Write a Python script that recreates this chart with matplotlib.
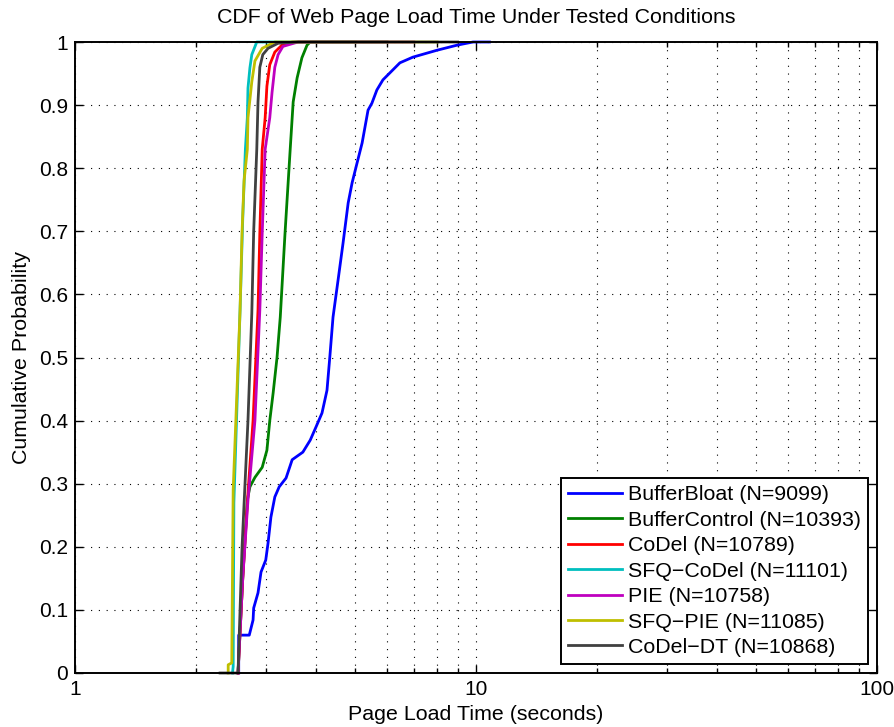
import matplotlib
matplotlib.use("Agg")
import matplotlib.pyplot as plt
from matplotlib.ticker import LogLocator, NullFormatter, FixedLocator, FixedFormatter

plt.rcParams['font.family'] = ['Liberation Sans', 'DejaVu Sans']

labels = ["BufferBloat (N=9099)", "BufferControl (N=10393)", "CoDel (N=10789)",
          "SFQ\u2212CoDel (N=11101)", "PIE (N=10758)", "SFQ\u2212PIE (N=11085)",
          "CoDel\u2212DT (N=10868)"]
colors = [(0, 0, 1), (0, 0.5, 0), (1, 0, 0), (0, 0.75, 0.75),
          (0.75, 0, 0.75), (0.75, 0.75, 0), (0.25, 0.25, 0.25)]

bufferbloat_x = [2.56, 2.56, 2.72, 2.78, 2.79, 2.86, 2.91, 2.99, 3.03, 3.08, 3.15, 3.23,
                 3.36, 3.48, 3.70, 3.86, 4.01, 4.13, 4.25, 4.32, 4.40, 4.53, 4.66, 4.80,
                 4.91, 5.05, 5.20, 5.38, 5.50, 5.66, 5.86, 6.46, 6.96, 8.00, 8.97, 9.83, 10.8]
bufferbloat_y = [0.0, 0.06, 0.06, 0.084, 0.103, 0.127, 0.160, 0.179, 0.206, 0.247, 0.279, 0.295,
                 0.309, 0.338, 0.350, 0.369, 0.393, 0.412, 0.448, 0.501, 0.564, 0.623, 0.681, 0.745,
                 0.777, 0.808, 0.840, 0.892, 0.903, 0.924, 0.940, 0.967, 0.976, 0.987, 0.995, 1.0, 1.0]

buffercontrol_x = [2.55, 2.62, 2.69, 2.73, 2.81, 2.93, 3.01, 3.06, 3.12, 3.19, 3.25, 3.34,
                   3.44, 3.50, 3.58, 3.68, 3.79, 3.86, 5.0]
buffercontrol_y = [0.0, 0.15, 0.274, 0.295, 0.31, 0.326, 0.353, 0.40, 0.444, 0.50, 0.564, 0.697,
                   0.829, 0.905, 0.943, 0.975, 0.995, 1.0, 1.0]

codel_x = [2.55, 2.62, 2.70, 2.78, 2.86, 2.89, 2.93, 2.98, 3.01, 3.06, 3.15, 3.28, 3.48, 6.0]
codel_y = [0.0, 0.15, 0.285, 0.40, 0.575, 0.697, 0.83, 0.88, 0.93, 0.964, 0.984, 0.995, 1.0, 1.0]

sfqcodel_x = [2.47, 2.48, 2.49, 2.58, 2.62, 2.66, 2.69, 2.70, 2.73, 2.76, 2.84, 6.0]
sfqcodel_y = [0.0, 0.01, 0.27, 0.575, 0.72, 0.83, 0.88, 0.927, 0.959, 0.98, 1.0, 1.0]

pie_x = [2.55, 2.62, 2.70, 2.81, 2.89, 2.93, 2.98, 3.06, 3.10, 3.15, 3.21, 3.30, 3.60, 7.0]
pie_y = [0.0, 0.15, 0.274, 0.40, 0.575, 0.697, 0.83, 0.88, 0.92, 0.96, 0.98, 0.993, 1.0, 1.0]

sfqpie_x = [2.41, 2.41, 2.46, 2.48, 2.58, 2.61, 2.64, 2.69, 2.70, 2.76, 2.81, 2.93, 3.15, 8.0]
sfqpie_y = [0.0, 0.013, 0.016, 0.29, 0.575, 0.70, 0.78, 0.83, 0.88, 0.937, 0.97, 0.99, 1.0, 1.0]

codeldt_x = [2.30, 2.55, 2.58, 2.61, 2.65, 2.70, 2.76, 2.79, 2.84, 2.86, 2.89, 2.94, 3.03, 3.21, 3.6, 9.0]
codeldt_y = [0.0, 0.0, 0.1, 0.2, 0.29, 0.40, 0.57, 0.70, 0.83, 0.905, 0.96, 0.98, 0.99, 0.998, 1.0, 1.0]

series_x = [bufferbloat_x, buffercontrol_x, codel_x, sfqcodel_x, pie_x, sfqpie_x, codeldt_x]
series_y = [bufferbloat_y, buffercontrol_y, codel_y, sfqcodel_y, pie_y, sfqpie_y, codeldt_y]

y_ticks = [0, 0.1, 0.2, 0.3, 0.4, 0.5, 0.6, 0.7, 0.8, 0.9, 1]
y_tick_labels = ["0", "0.1", "0.2", "0.3", "0.4", "0.5", "0.6", "0.7", "0.8", "0.9", "1"]
x_ticks = [1, 10, 100]
x_tick_labels = ["1", "10", "100"]

fig = plt.figure(figsize=(8.94, 7.27), dpi=100)
ax = fig.add_axes([75/894, 54/727, (877-75)/894, (673-42)/727])

for xs, ys, c, lab in zip(series_x, series_y, colors, labels):
    ax.plot(xs, ys, color=c, lw=2.0, label=lab, clip_on=False, zorder=3)

ax.set_xscale('log')
ax.set_xlim(1, 100)
ax.set_ylim(0, 1)
ax.xaxis.set_major_locator(FixedLocator(x_ticks))
ax.xaxis.set_major_formatter(FixedFormatter(x_tick_labels))
ax.xaxis.set_minor_locator(LogLocator(base=10, subs=[2, 3, 4, 5, 6, 7, 8, 9]))
ax.xaxis.set_minor_formatter(NullFormatter())
ax.yaxis.set_major_locator(FixedLocator(y_ticks))
ax.yaxis.set_major_formatter(FixedFormatter(y_tick_labels))

ax.grid(True, which='major', color='k', linestyle=(0, (1, 6)), lw=0.8)
ax.grid(True, which='minor', axis='x', color='k', linestyle=(0, (1, 6)), lw=0.8)

ax.tick_params(which='both', direction='in', top=True, right=True, labelsize=15, width=1.0, pad=5)
ax.tick_params(which='major', length=6)
ax.tick_params(which='minor', length=3.5)
for s in ax.spines.values():
    s.set_linewidth(1.4)
    s.set_zorder(4)

ax.set_title("CDF of Web Page Load Time Under Tested Conditions", fontsize=15.4, pad=14)
ax.set_xlabel("Page Load Time (seconds)", fontsize=15.4, labelpad=4)
ax.set_ylabel("Cumulative Probability", fontsize=15.4, labelpad=6)

leg = ax.legend(loc='lower right', fontsize=15.4, frameon=True, fancybox=False,
                edgecolor='k', framealpha=1, handlelength=2.5, handletextpad=0.3,
                labelspacing=0.3, borderpad=0.35, borderaxespad=0.4)
leg.get_frame().set_linewidth(1.4)
leg.set_zorder(5)

fig.savefig("out.png", dpi=100)
